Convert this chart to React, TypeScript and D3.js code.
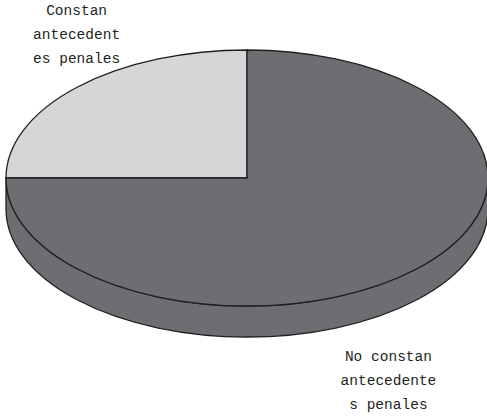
import React from 'react';
import * as d3 from 'd3';

// slice data
const categories = ['Constan antecedentes penales', 'No constan antecedentes penales'];
const values = [25, 75];
const labelLines = [
  ['Constan', 'antecedent', 'es penales'],
  ['No constan', 'antecedente', 's penales'],
];
const colors = ['#d5d6d8', '#6d6e72'];

const width = 487;
const height = 417;
const cx = 247;
const cy = 178;
const rx = 241;
const ry = 128;
const depth = 31;
const stroke = '#231f20';

// label anchors as factors of the ellipse radii at the slice's mid angle
const labelFactors = [
  { kx: 1.0, ky: 1.59, dy: 0 },
  { kx: 0.83, ky: 1.89, dy: depth },
];

const pt = (a: number, dy = 0) => [cx + Math.sin(a) * rx, cy - Math.cos(a) * ry + dy];

const wallPath = (a0: number, a1: number) => {
  const s = Math.max(a0, Math.PI / 2);
  const e = Math.min(a1, (3 * Math.PI) / 2);
  if (e <= s) return null;
  const [x0, y0] = pt(s);
  const [x1, y1] = pt(e);
  const large = e - s > Math.PI ? 1 : 0;
  return `M${x0},${y0}A${rx},${ry} 0 ${large} 1 ${x1},${y1}L${x1},${y1 + depth}A${rx},${ry} 0 ${large} 0 ${x0},${y0 + depth}Z`;
};

const App: React.FC = () => {
  const data = categories.map((c, i) => ({ name: c, value: values[i], lines: labelLines[i], color: colors[i] }));
  const pie = d3.pie<any>().sort(null).value(d => d.value).startAngle(-Math.PI / 2).endAngle((3 * Math.PI) / 2);
  const arcs = pie(data);
  const arc = d3.arc<any>().innerRadius(0).outerRadius(rx);

  return (
    <svg width={width} height={height} style={{ position: 'absolute', left: 0, top: 0, background: '#fff' }}>
      {arcs.map((a, i) => {
        const d = wallPath(a.startAngle, a.endAngle);
        return d ? <path key={'w' + i} d={d} fill={a.data.color} stroke={stroke} strokeWidth={1.3} /> : null;
      })}
      <g transform={`translate(${cx},${cy}) scale(1,${ry / rx})`}>
        {arcs.map((a, i) => (
          <path key={'t' + i} d={arc(a) as string} fill={a.data.color} stroke={stroke} strokeWidth={1.3} vectorEffect="non-scaling-stroke" />
        ))}
      </g>
      {arcs.map((a, i) => {
        const mid = (a.startAngle + a.endAngle) / 2;
        const f = labelFactors[i];
        const lx = cx + Math.sin(mid) * rx * f.kx;
        const ly = cy - Math.cos(mid) * ry * f.ky + f.dy;
        const n = a.data.lines.length;
        return (
          <text key={'l' + i} textAnchor="middle" fontFamily="'Courier New', 'Liberation Mono', monospace" fontSize={14.5} fill="#231f20">
            {a.data.lines.map((t: string, j: number) => (
              <tspan key={j} x={lx} y={ly + (j - (n - 1) / 2) * 24 + 5}>{t}</tspan>
            ))}
          </text>
        );
      })}
    </svg>
  );
};

export default App;
